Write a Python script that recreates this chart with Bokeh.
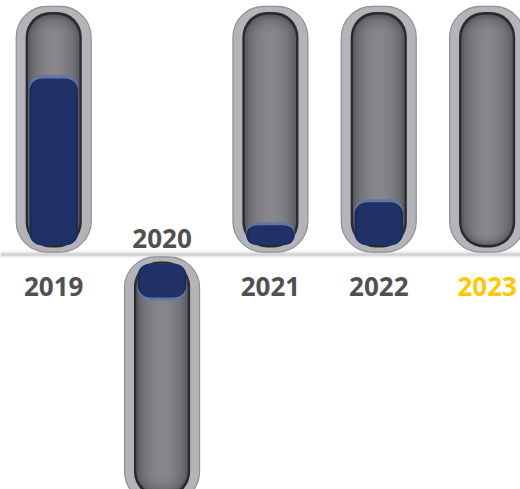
import numpy as np
from bokeh.plotting import figure
from bokeh.models import Range1d, Span
from bokeh.core.properties import value
from bokeh.embed import file_html
from bokeh.resources import INLINE

# ---- data ----
years = ["2019", "2020", "2021", "2022", "2023"]
values = [74, -16, 10, 20, 0]          # percent of tube filled (negative = downward tube)
highlight_year = "2023"

label_color = "#505050"
highlight_color = "#FFC800"

x = np.arange(len(years), dtype=float)
vals = np.array(values, dtype=float)
sign = np.where(vals < 0, -1.0, 1.0)

p = figure(width=520, height=489,
           x_range=Range1d(-0.491, 4.308), y_range=Range1d(-100.4, 108.5),
           output_backend="svg", toolbar_location=None,
           x_axis_type=None, y_axis_type=None, min_border=0)
p.grid.visible = False
p.outline_line_color = None
p.background_fill_color = "white"
p.border_fill_color = "white"

# baseline shadow
for w, a, c in [(8, 0.08, "#8a8a8a"), (5, 0.12, "#8a8a8a"), (2.5, 0.22, "#8a8a8a")]:
    p.add_layout(Span(location=0, dimension="width", line_color=c,
                      line_width=w, line_alpha=a, level="underlay"))


def mirrored(y0, y1):
    bottoms = np.where(sign > 0, y0, -y1)
    tops = np.where(sign > 0, y1, -y0)
    return bottoms, tops


def layer(y0, y1, hw, radius, fill, line=None, lw=1, alpha=1.0):
    b, t = mirrored(y0, y1)
    p.quad(left=x - hw, right=x + hw, bottom=b, top=t, border_radius=radius,
           fill_color=fill, fill_alpha=alpha, line_color=line, line_width=lw)


# tube shells
layer(1.0, 106.0, 0.346, 31, "#b3b4b8", "#8e8f93", 1.2)
layer(3.0, 103.6, 0.259, 25, "#2b2b2d")
layer(4.0, 102.4, 0.237, 23, "#5e5f63")
# soft horizontal gradient of the tube interior
for i in range(8):
    f = (i + 1) / 8.0
    hw_i = 0.237 * (1 - 0.85 * f)
    layer(4.0 + 0.5 * (i + 1), 102.4 - 0.9 * (i + 1), hw_i, max(3, int(23 * (1 - 0.8 * f))),
          "#8c8d91", alpha=0.22)

# fill bars (blue)
base = 4.0
mask = vals != 0
ends = base + np.abs(vals) * 0.98
xb = x[mask]
sb = sign[mask]
eb = ends[mask]
hw = 0.224
# highlight rim
b_hi = np.where(sb > 0, base, -eb)
t_hi = np.where(sb > 0, eb, -base)
p.quad(left=xb - hw, right=xb + hw, bottom=b_hi, top=t_hi, border_radius=12,
       fill_color="#6474a5", line_color=None)
# main body (dark edges, lighter centre)
b_m = np.where(sb > 0, base, -(eb - 1.4))
t_m = np.where(sb > 0, eb - 1.4, -base)
p.quad(left=xb - hw, right=xb + hw, bottom=b_m, top=t_m, border_radius=12,
       fill_color="#1a2a5a", line_color=None)
p.quad(left=xb - hw + 0.02, right=xb + hw - 0.02, bottom=b_m, top=t_m, border_radius=11,
       fill_color="#1f3166", line_color=None)

# labels
label_y = np.where(sign > 0, -13.7, 6.8)
colors = [highlight_color if y == highlight_year else label_color for y in years]
p.text(x=x, y=label_y, text=years, text_color=colors,
       text_font=value("Open Sans"), text_font_style="bold",
       text_font_size="26px", text_align="center", text_baseline="middle")

open("out.html", "w").write(file_html(p, INLINE))
